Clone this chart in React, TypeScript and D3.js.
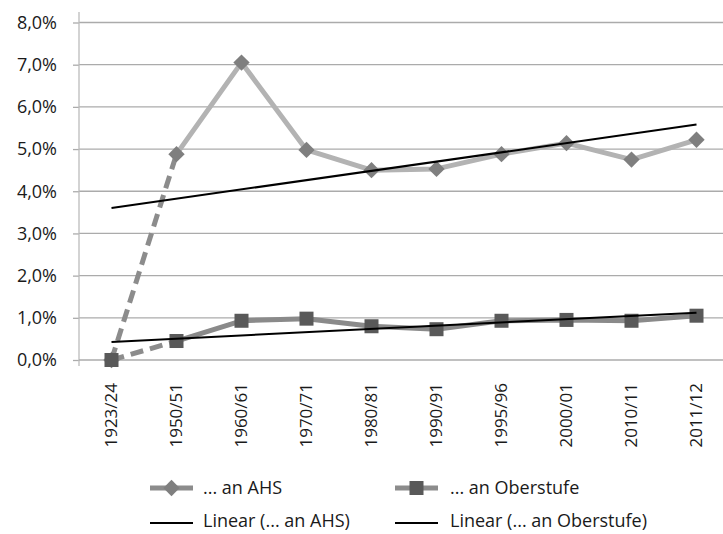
import { useEffect, useRef } from "react";
import * as d3 from "d3";

// school years (category axis)
const years = [
  "1923/24", "1950/51", "1960/61", "1970/71", "1980/81",
  "1990/91", "1995/96", "2000/01", "2010/11", "2011/12",
];
// share in percent
const ahs = [0.0, 4.88, 7.05, 4.98, 4.5, 4.53, 4.88, 5.14, 4.75, 5.22];
const oberstufe = [0.0, 0.45, 0.93, 0.98, 0.8, 0.73, 0.93, 0.95, 0.93, 1.05];
const yTicks = [0, 1, 2, 3, 4, 5, 6, 7, 8];

const legendItems = [
  { label: "... an AHS", kind: "diamond" },
  { label: "... an Oberstufe", kind: "square" },
  { label: "Linear (... an AHS)", kind: "trend" },
  { label: "Linear (... an Oberstufe)", kind: "trend" },
];

const FONT = "'Open Sans', sans-serif";

// least squares fit over the category index
const linearFit = (vals: number[]) => {
  const n = vals.length;
  const xs = vals.map((_, i) => i + 1);
  const mx = d3.mean(xs) as number;
  const my = d3.mean(vals) as number;
  const sxy = d3.sum(xs, (x, i) => (x - mx) * (vals[i] - my));
  const sxx = d3.sum(xs, (x) => (x - mx) * (x - mx));
  const b = sxy / sxx;
  const a = my - b * mx;
  return [a + b * 1, a + b * n];
};

const App = () => {
  const svgRef = useRef<SVGSVGElement | null>(null);

  useEffect(() => {
    const w = 723;
    const h = 534;
    const left = 79;
    const right = 729;
    const bottom = 360;
    const top = 22.5;

    const svg = d3.select(svgRef.current).attr("width", w).attr("height", h);
    svg.selectAll("*").remove();

    const x = d3.scalePoint<string>().domain(years).range([left, right]).padding(0.5);
    const y = d3.scaleLinear().domain([0, 8]).range([bottom, top]);

    const locale = d3.formatLocale({
      decimal: ",",
      thousands: ".",
      grouping: [3],
      currency: ["", "€"],
    });
    const fmt = locale.format(".1f");

    // gridlines
    svg
      .append("g")
      .selectAll("line")
      .data(yTicks.filter((t) => t > 0))
      .join("line")
      .attr("x1", left)
      .attr("x2", right)
      .attr("y1", (d) => y(d))
      .attr("y2", (d) => y(d))
      .attr("stroke", "#ababab")
      .attr("stroke-width", 1.3);

    // y axis
    const yAxis = d3
      .axisLeft(y)
      .tickValues(yTicks)
      .tickSize(6)
      .tickPadding(16)
      .tickFormat((d: any) => fmt(d) + "%");
    const gy = svg.append("g").attr("transform", `translate(${left},0)`).call(yAxis);
    gy.select(".domain").remove();
    gy.selectAll(".tick line").attr("stroke", "#ababab").attr("stroke-width", 1.3);
    gy.selectAll(".tick text")
      .attr("fill", "#1a1a1a")
      .style("font-family", FONT)
      .style("font-size", "18px");
    svg
      .append("line")
      .attr("x1", left)
      .attr("x2", left)
      .attr("y1", 12)
      .attr("y2", bottom + 6)
      .attr("stroke", "#bcbcbc")
      .attr("stroke-width", 1.3);

    // x axis line
    svg
      .append("line")
      .attr("x1", left)
      .attr("x2", right)
      .attr("y1", bottom)
      .attr("y2", bottom)
      .attr("stroke", "#ababab")
      .attr("stroke-width", 1.3);

    // x labels
    svg
      .append("g")
      .selectAll("text")
      .data(years)
      .join("text")
      .attr("transform", (d) => `translate(${x(d)},383) rotate(-90)`)
      .attr("text-anchor", "end")
      .attr("dy", "0.35em")
      .attr("fill", "#1a1a1a")
      .style("font-family", FONT)
      .style("font-size", "17px")
      .text((d) => d);

    const line = d3
      .line<number>()
      .x((_, i) => x(years[i]) as number)
      .y((d) => y(d));

    const drawSeries = (vals: number[], solidColor: string) => {
      // first segment dashed
      svg
        .append("path")
        .attr("d", line(vals.slice(0, 2)))
        .attr("fill", "none")
        .attr("stroke", "#8c8c8c")
        .attr("stroke-width", 5)
        .attr("stroke-dasharray", "13,7");
      const rest = vals.slice(1);
      svg
        .append("path")
        .attr(
          "d",
          d3
            .line<number>()
            .x((_, i) => x(years[i + 1]) as number)
            .y((d) => y(d))(rest)
        )
        .attr("fill", "none")
        .attr("stroke", solidColor)
        .attr("stroke-width", 5)
        .attr("stroke-linejoin", "round");
    };

    const diamond = d3.symbol(d3.symbolDiamond2, 170)() as string;

    // AHS
    drawSeries(ahs, "#b3b3b3");
    svg
      .append("g")
      .selectAll("path")
      .data(ahs)
      .join("path")
      .attr("d", diamond)
      .attr("transform", (d, i) => `translate(${x(years[i])},${y(d)})`)
      .attr("fill", "#7f7f7f");

    // Oberstufe
    drawSeries(oberstufe, "#8a8a8a");
    svg
      .append("g")
      .selectAll("rect")
      .data(oberstufe)
      .join("rect")
      .attr("x", (_, i) => (x(years[i]) as number) - 7)
      .attr("y", (d) => y(d) - 7)
      .attr("width", 14)
      .attr("height", 14)
      .attr("fill", "#595959");

    // trend lines
    [ahs, oberstufe].forEach((vals) => {
      const [a, b] = linearFit(vals);
      svg
        .append("line")
        .attr("x1", x(years[0]) as number)
        .attr("x2", x(years[years.length - 1]) as number)
        .attr("y1", y(a))
        .attr("y2", y(b))
        .attr("stroke", "#000")
        .attr("stroke-width", 2);
    });

    // legend
    const lg = svg.append("g");
    legendItems.forEach((it, i) => {
      const lx = i % 2 === 0 ? 150 : 395;
      const ly = i < 2 ? 488 : 521;
      const g = lg.append("g").attr("transform", `translate(${lx},${ly})`);
      if (it.kind === "trend") {
        g.append("line")
          .attr("x1", 0)
          .attr("x2", 43)
          .attr("y1", 2)
          .attr("y2", 2)
          .attr("stroke", "#000")
          .attr("stroke-width", 2);
      } else {
        g.append("line")
          .attr("x1", 0)
          .attr("x2", 43)
          .attr("stroke", "#8c8c8c")
          .attr("stroke-width", 5);
        if (it.kind === "diamond") {
          g.append("path")
            .attr("d", diamond)
            .attr("transform", "translate(21.5,0)")
            .attr("fill", "#7f7f7f");
        } else {
          g.append("rect")
            .attr("x", 14.5)
            .attr("y", -7)
            .attr("width", 14)
            .attr("height", 14)
            .attr("fill", "#595959");
        }
      }
      g.append("text")
        .attr("x", i % 2 === 0 ? 53 : 55)
        .attr("dy", "0.35em")
        .attr("fill", "#1a1a1a")
        .style("font-family", FONT)
        .style("font-size", "18px")
        .text(it.label);
    });
  }, []);

  return (
    <div style={{ position: "absolute", left: 0, top: 0 }}>
      <svg ref={svgRef}></svg>
    </div>
  );
};

export default App;
